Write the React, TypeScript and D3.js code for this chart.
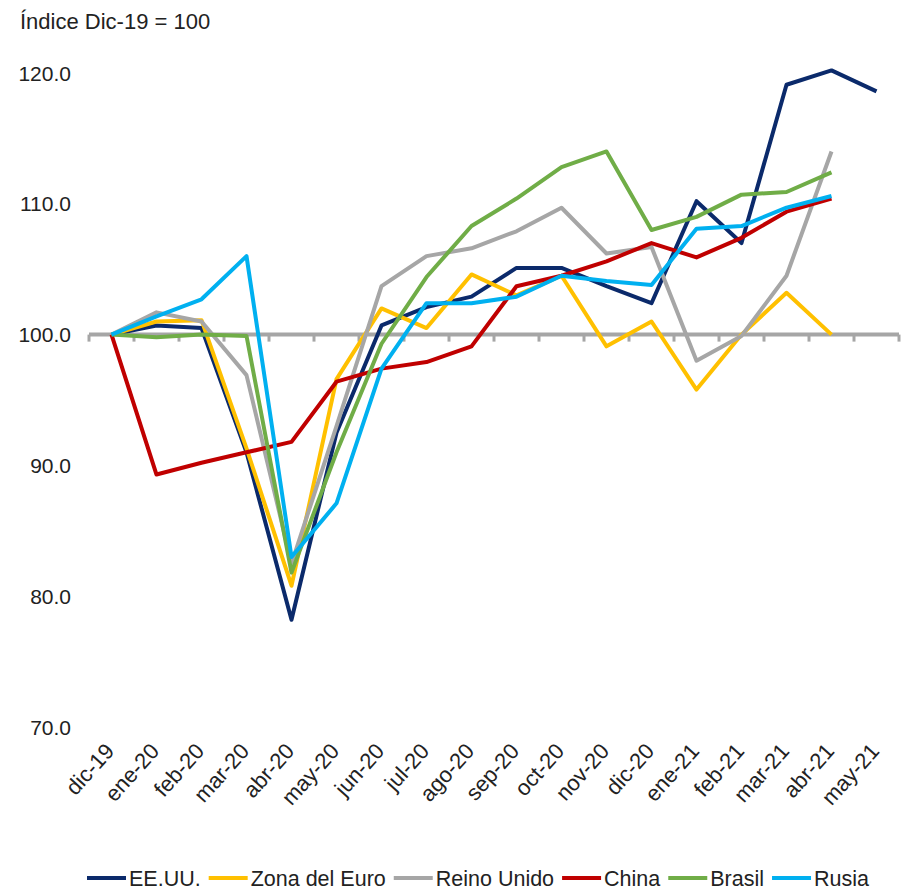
import * as React from 'react';
import * as d3 from 'd3';

const months = [
  'dic-19', 'ene-20', 'feb-20', 'mar-20', 'abr-20', 'may-20', 'jun-20', 'jul-20', 'ago-20',
  'sep-20', 'oct-20', 'nov-20', 'dic-20', 'ene-21', 'feb-21', 'mar-21', 'abr-21', 'may-21'
];

const eeuu = [100, 100.7, 100.5, 91.0, 78.2, 92.5, 100.7, 102.1, 102.9, 105.1, 105.1, 103.7, 102.4, 110.2, 107.0, 119.1, 120.2, 118.6];
const zonaEuro = [100, 101.0, 101.1, 91.3, 80.8, 96.6, 102.0, 100.5, 104.6, 103.0, 104.5, 99.1, 101.0, 95.8, 100.0, 103.2, 100.0];
const reinoUnido = [100, 101.7, 101.0, 96.9, 82.5, 93.0, 103.7, 106.0, 106.6, 107.9, 109.7, 106.2, 106.7, 98.0, 99.9, 104.5, 114.0];
const china = [100, 89.3, 90.2, 91.0, 91.8, 96.4, 97.4, 97.9, 99.1, 103.7, 104.5, 105.6, 107.0, 105.9, 107.4, 109.4, 110.4];
const brasil = [100, 99.8, 100.0, 99.9, 81.8, 91.0, 99.3, 104.4, 108.3, 110.4, 112.8, 114.0, 108.0, 109.0, 110.7, 110.9, 112.4];
const rusia = [100, 101.4, 102.7, 106.0, 83.0, 87.1, 97.4, 102.4, 102.4, 102.9, 104.5, 104.1, 103.8, 108.1, 108.3, 109.7, 110.6];

const yTicks = [70, 80, 90, 100, 110, 120];

const series = [
  { name: 'EE.UU.', values: eeuu, color: '#0B2A6B' },
  { name: 'Zona del Euro', values: zonaEuro, color: '#FFC000' },
  { name: 'Reino Unido', values: reinoUnido, color: '#A6A6A6' },
  { name: 'China', values: china, color: '#C00000' },
  { name: 'Brasil', values: brasil, color: '#70AD47' },
  { name: 'Rusia', values: rusia, color: '#00B0F0' }
];

const W = 908;
const H = 891;
const FONT = "'Liberation Sans', Arial, sans-serif";

const App = () => {
  const nodeRef = React.useRef<SVGSVGElement>(null);

  React.useEffect(() => {
    const svg = d3.select(nodeRef.current);
    svg.selectAll('*').remove();

    const x = d3.scaleBand().domain(months).range([89, 899]);
    const y = d3.scaleLinear().domain([70, 120]).range([727, 73]);
    const cx = (i: number) => (x(months[i]) as number) + x.bandwidth() / 2;

    // title
    svg.append('text')
      .attr('x', 20).attr('y', 29)
      .attr('font-family', FONT).attr('font-size', 22).attr('fill', '#222')
      .text('Índice Dic-19 = 100');

    // y labels
    svg.append('g').selectAll('text')
      .data(yTicks)
      .enter()
      .append('text')
      .attr('x', 71)
      .attr('y', d => y(d) + 7.5)
      .attr('text-anchor', 'end')
      .attr('font-family', FONT).attr('font-size', 21).attr('fill', '#222')
      .text(d => d.toFixed(1));

    // axis at 100
    const axisY = y(100);
    const ax = svg.append('g');
    ax.append('line')
      .attr('x1', 89).attr('x2', 899)
      .attr('y1', axisY).attr('y2', axisY)
      .attr('stroke', '#A6A6A6').attr('stroke-width', 4);
    const edges = months.map(m => x(m) as number).concat([899]);
    ax.selectAll('line.tick')
      .data(edges)
      .enter()
      .append('line')
      .attr('class', 'tick')
      .attr('x1', d => d).attr('x2', d => d)
      .attr('y1', axisY).attr('y2', axisY + 7)
      .attr('stroke', '#A6A6A6').attr('stroke-width', 3);

    // x labels
    svg.append('g').selectAll('text')
      .data(months)
      .enter()
      .append('text')
      .attr('transform', (d, i) => 'translate(' + (cx(i) + 4) + ',752) rotate(-48)')
      .attr('text-anchor', 'end')
      .attr('font-family', FONT).attr('font-size', 22).attr('fill', '#222')
      .text(d => d);

    // lines
    const line = d3.line<number>()
      .x((d, i) => cx(i))
      .y(d => y(d));
    series.forEach(s => {
      svg.append('path')
        .datum(s.values)
        .attr('d', line)
        .attr('fill', 'none')
        .attr('stroke', s.color)
        .attr('stroke-width', 4)
        .attr('stroke-linejoin', 'round');
    });

    // legend
    const lg = svg.append('g');
    let lx = 87;
    const ly = 878;
    series.forEach(s => {
      lg.append('line')
        .attr('x1', lx).attr('x2', lx + 39)
        .attr('y1', ly).attr('y2', ly)
        .attr('stroke', s.color).attr('stroke-width', 4);
      const t = lg.append('text')
        .attr('x', lx + 42).attr('y', ly + 7.5)
        .attr('font-family', FONT).attr('font-size', 21.5).attr('fill', '#222')
        .text(s.name);
      const w = (t.node() as SVGTextElement).getComputedTextLength();
      lx += 42 + w + 8;
    });
  }, []);

  return (
    <svg
      ref={nodeRef}
      width={W}
      height={H}
      style={{ position: 'absolute', left: 0, top: 0, background: '#fff' }}
    />
  );
};

export default App;
